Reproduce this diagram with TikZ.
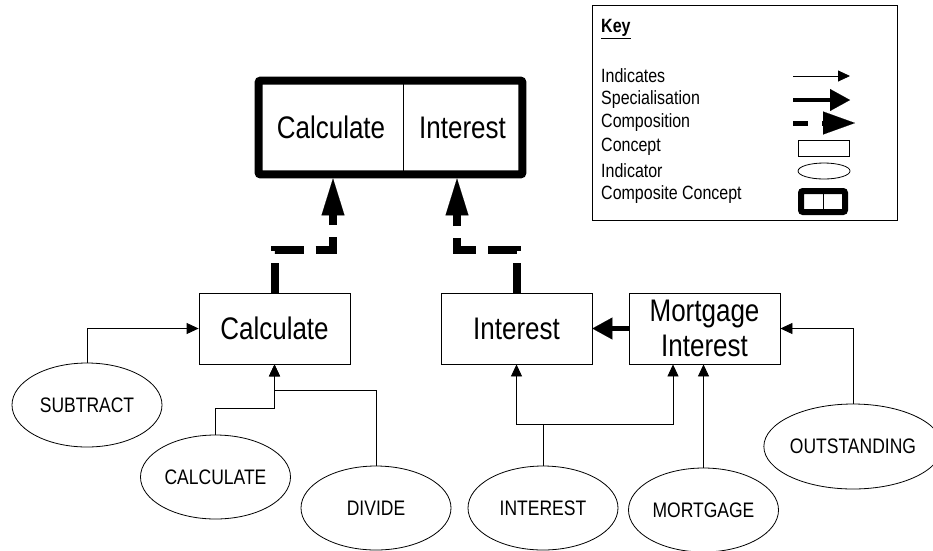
\documentclass[tikz,border=0pt]{standalone}
\usepackage{fontspec}
\usepackage{graphicx}
\setmainfont{Liberation Sans}
\usetikzlibrary{arrows.meta,shapes.geometric}
\newcommand{\tallt}[1]{\scalebox{1}[1.2]{#1}}

\begin{document}
\begin{tikzpicture}[x=1pt,y=-1pt,
    indicates/.style={draw=black,line width=0.8pt,-{Triangle[length=12pt,width=11pt]}},
    special/.style={draw=black,line width=5pt,-{Triangle[length=20pt,width=22pt,line width=0.1pt]}},
    compose/.style={draw=black,line width=8pt,dash pattern=on 30pt off 12pt,-{Triangle[length=37pt,width=23pt,line width=0.1pt]}}]
    \useasboundingbox (0,0) rectangle (933,550);

    % composite concept
    \begin{scope}[every node/.style={rectangle,draw,line width=0.8pt,minimum height=93pt,inner sep=0pt,font=\fontsize{26}{30}\selectfont}]
      \node[minimum width=144pt] (ccalc) at (331,127.5) {\tallt{Calculate}};
      \node[minimum width=119pt] (cint) at (462.5,127.5) {\tallt{Interest}};
    \end{scope}
    \draw[line width=8pt,rounded corners=2pt] (ccalc.north west) rectangle (cint.south east);

    % concepts
    \begin{scope}[every node/.style={rectangle,draw,line width=0.8pt,minimum width=151pt,minimum height=71pt,inner sep=0pt,align=center,font=\fontsize{26}{35}\selectfont}]
      \node (calc) at (274.5,328.5) {\tallt{Calculate}};
      \node (int) at (516.5,328.5) {\tallt{Interest}};
      \node (mort) at (704.5,328.5) {\tallt{Mortgage}\\\tallt{Interest}};
    \end{scope}

    % indicators
    \begin{scope}[every node/.style={ellipse,draw,line width=0.8pt,minimum width=150pt,minimum height=84pt,inner sep=0pt,font=\fontsize{17.5}{20}\selectfont}]
      \node (subtract) at (87,405) {\tallt{SUBTRACT}};
      \node (calculate) at (215.5,477) {\tallt{CALCULATE}};
      \node (divide) at (376,508) {\tallt{DIVIDE}};
      \node (interest) at (543,508) {\tallt{INTEREST}};
      \node (mortgage) at (703.5,510) {\tallt{MORTGAGE}};
      \node[minimum width=178pt,minimum height=85pt] (outstanding) at (853,446.5) {\tallt{OUTSTANDING}};
    \end{scope}

    \draw[indicates] (subtract.north) |- (calc.west);
    \draw[indicates] (calculate.north) -- ++(0,-26) -| (calc.south);
    \draw[indicates] (divide.north) -- ++(0,-75) -| (calc.south);
    \draw[indicates] (interest.north) -- ++(0,-41) -| (int.south);
    \draw[indicates] (interest.north) -- ++(0,-41) -| ([xshift=-31.5pt]mort.south);
    \draw[indicates] (mortgage.north) -- (mortgage.north |- mort.south);
    \draw[indicates] (outstanding.north) |- (mort.east);

    \draw[special] (mort.west) -- (int.east);

    \draw[compose] (calc.north) -- ++(0,-43) -| ([xshift=2pt,yshift=-4pt]ccalc.south);
    \draw[compose] (int.north) -- ++(0,-43) -| ([xshift=-5.5pt,yshift=-4pt]cint.south);

    % key
    \node[draw,line width=0.8pt,minimum width=305pt,minimum height=215pt] (keybox) at (744.5,112.5) {};
    \begin{scope}[every node/.style={anchor=west,inner sep=0pt,font=\fontsize{16}{18}\selectfont}]
      \node (keytitle) at (601,29) {\tallt{\textbf{\underline{Key}}}};
      \node (kindicates) at (601,76) {\tallt{Indicates}};
      \node (kspecial) at (601,100) {\tallt{Specialisation}};
      \node (kcompose) at (601,123) {\tallt{Composition}};
      \node (kconcept) at (601,147) {\tallt{Concept}};
      \node (kindicator) at (601,171) {\tallt{Indicator}};
      \node (kcomposite) at (601,195) {\tallt{Composite Concept}};
    \end{scope}
    \coordinate (ka) at (793,76);  \coordinate (kb) at (850,76);
    \coordinate (kc) at (793,100); \coordinate (kd) at (850,100);
    \coordinate (ke) at (793,123); \coordinate (kf) at (855,123);
    \draw[indicates] (ka) -- (kb);
    \draw[special,line width=4pt] (kc) -- (kd);
    \draw[compose,line width=5pt,dash pattern=on 15pt off 14pt,-{Triangle[length=32pt,width=23pt,line width=0.1pt]}] (ke) -- (kf);
    \draw[line width=0.8pt] (798,140) rectangle (849,156);
    \draw[line width=0.8pt] (824,171) ellipse [x radius=26, y radius=8];
    \draw[line width=6pt,rounded corners=2pt] (801,191) rectangle (845,212);
    \draw[line width=0.8pt] (823,191) -- (823,212);
\end{tikzpicture}
\end{document}
